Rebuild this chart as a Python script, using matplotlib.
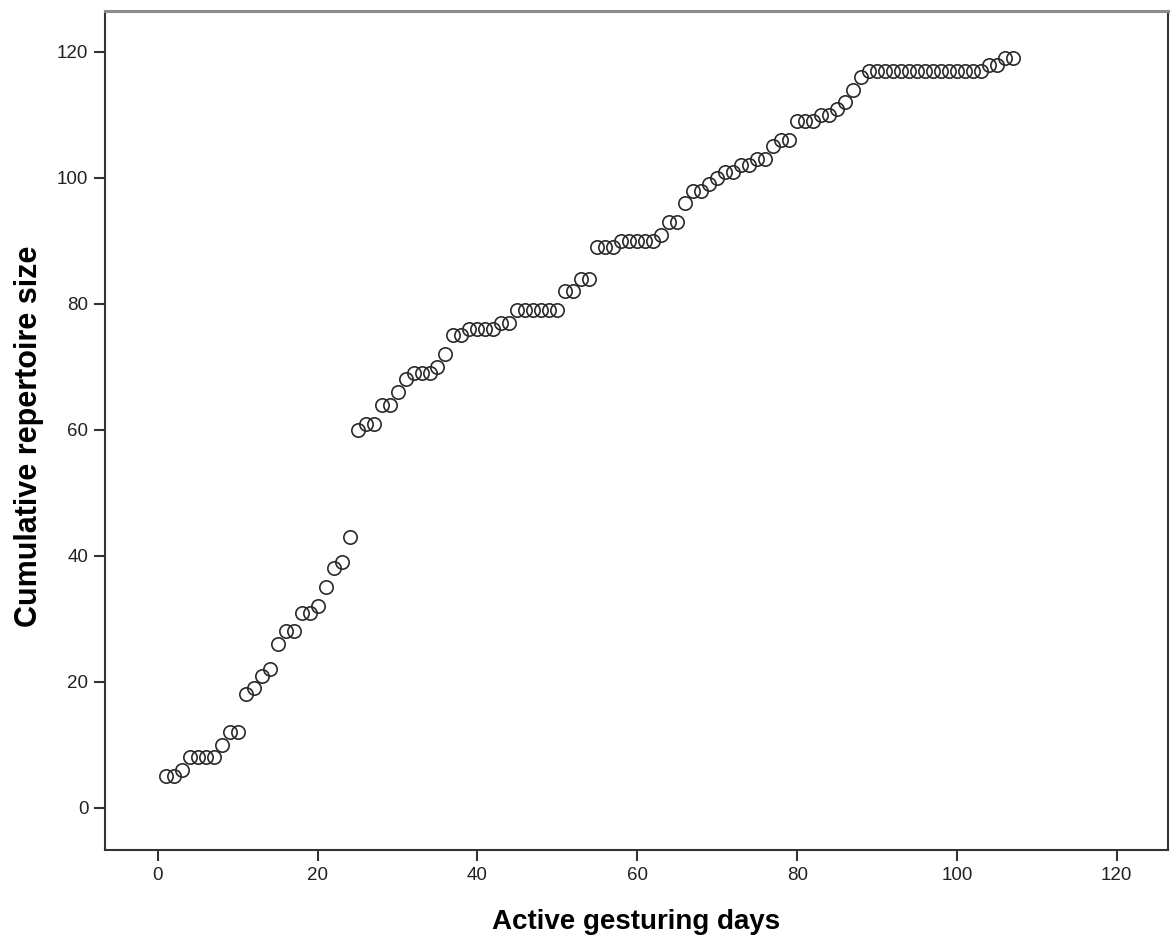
"""Cumulative gesture repertoire vs. active gesturing days (SPSS-style scatter)."""
import numpy as np
import matplotlib
matplotlib.use('Agg')
import matplotlib.pyplot as plt

plt.rcParams['font.family'] = ['Liberation Sans', 'DejaVu Sans']

# one point per active day, days 1..107
days = list(range(1, 108))
repertoire = [
    5, 5, 6, 8, 8, 8, 8, 10, 12, 12,          # 1-10
    18, 19, 21, 22, 26, 28, 28, 31, 31, 32,   # 11-20
    35, 38, 39, 43, 60, 61, 61, 64, 64, 66,   # 21-30
    68, 69, 69, 69, 70, 72, 75, 75, 76, 76,   # 31-40
    76, 76, 77, 77, 79, 79, 79, 79, 79, 79,   # 41-50
    82, 82, 84, 84, 89, 89, 89, 90, 90, 90,   # 51-60
    90, 90, 91, 93, 93, 96, 98, 98, 99, 100,  # 61-70
    101, 101, 102, 102, 103, 103, 105, 106, 106, 109,  # 71-80
    109, 109, 110, 110, 111, 112, 114, 116, 117, 117,  # 81-90
    117, 117, 117, 117, 117, 117, 117, 117, 117, 117,  # 91-100
    117, 117, 117, 118, 118, 119, 119,        # 101-107
]

xticks = [0, 20, 40, 60, 80, 100, 120]
yticks = [0, 20, 40, 60, 80, 100, 120]

fig = plt.figure(figsize=(11.71, 9.41), dpi=100)
ax = fig.add_axes([0.0897, 0.0967, 0.9077, 0.8916])

ax.plot(days, repertoire, 'o', ls='none', ms=9.6, mfc='none',
        mec='#2a2a2a', mew=1.2)

ax.set_xlim(-6.6, 126.4)
ax.set_ylim(-6.7, 126.5)
ax.set_xticks(xticks)
ax.set_yticks(yticks)
ax.tick_params(direction='out', length=8, width=1.5, color='#333333',
               labelsize=13.5, labelcolor='#222222', pad=4)

for side in ('left', 'bottom', 'right'):
    ax.spines[side].set_color('#333333')
    ax.spines[side].set_linewidth(1.5)
ax.spines['top'].set_color('#8c8c8c')
ax.spines['top'].set_linewidth(2.2)

ax.set_xlabel('Active gesturing days', fontsize=20, fontweight='bold',
              labelpad=18)
ax.set_ylabel('Cumulative repertoire size', fontsize=22, fontweight='bold')
ax.yaxis.set_label_coords(-0.057, 0.493)

fig.savefig('out.png', dpi=100)
